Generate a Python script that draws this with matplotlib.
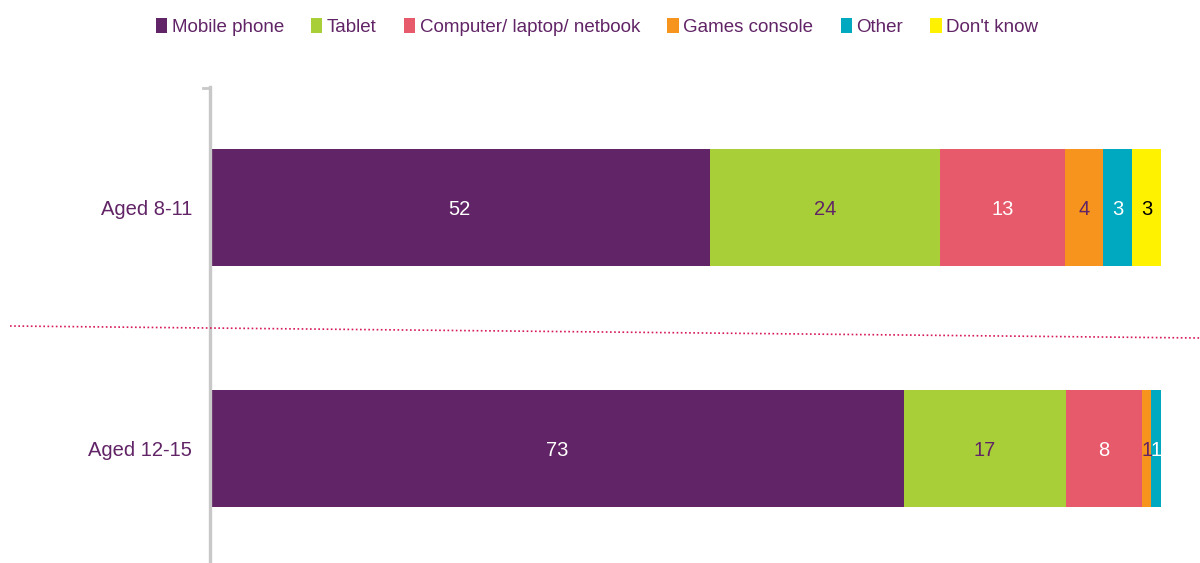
import matplotlib
matplotlib.use("Agg")
import matplotlib.pyplot as plt
from matplotlib.lines import Line2D
from matplotlib.patches import Patch
import numpy as np

plt.rcParams['font.family'] = ['Liberation Sans', 'DejaVu Sans']

groups = ["Aged 8-11", "Aged 12-15"]
series = ["Mobile phone", "Tablet", "Computer/ laptop/ netbook", "Games console", "Other", "Don't know"]
mobile = [52, 73]
tablet = [24, 17]
computer = [13, 8]
games = [4, 1]
other = [3, 1]
dontknow = [3, 0]

colors = ["#612466", "#A8CF38", "#E65A6B", "#F7941D", "#00A9BF", "#FFF200"]
text_colors = ["white", "#612466", "white", "#612466", "white", "black"]
purple = "#612466"

data = np.array([mobile, tablet, computer, games, other, dontknow], dtype=float)
totals = data.sum(axis=0)
pct = data / totals * 100

fig = plt.figure(figsize=(12, 5.63), dpi=100)
ax = fig.add_axes([0.175, 0.0, 0.7925, 1 - 87 / 563])

y = np.arange(len(groups))
left = np.zeros(len(groups))
for i, name in enumerate(series):
    ax.barh(y, pct[i], left=left, height=0.4875, color=colors[i], label=name)
    for j in range(len(groups)):
        v = data[i, j]
        if v > 0:
            ax.text(left[j] + pct[i, j] / 2, y[j], f"{int(v)}", ha="center", va="center_baseline",
                    color=text_colors[i], fontsize=14.5)
    left += pct[i]

ax.set_xlim(0, 100)
ax.set_ylim(1.479, -0.504)
ax.set_yticks(y)
ax.set_yticklabels(groups, fontsize=14.5, color=purple, va="center_baseline")
ax.tick_params(axis="y", length=0, pad=13)
ax.set_xticks([])
for s in ["top", "right", "bottom"]:
    ax.spines[s].set_visible(False)
ax.spines["left"].set_color("#C8C8C8")
ax.spines["left"].set_linewidth(2.4)

# small hook at top of axis line
fig.add_artist(Line2D([203 / 1200, 208 / 1200], [1 - 88 / 563, 1 - 88 / 563],
                      color="#C8C8C8", lw=2.0, transform=fig.transFigure))

# dotted separator
fig.add_artist(Line2D([10 / 1200, 1200 / 1200], [1 - 326 / 563, 1 - 338 / 563],
                      color="#D6195A", lw=1.2, linestyle=(0, (1, 1.5)), transform=fig.transFigure))

handles = [Patch(facecolor=c, edgecolor="none") for c in colors]
leg = fig.legend(handles, series, loc="center", bbox_to_anchor=(597 / 1200, 1 - 27 / 563),
                 ncol=6, frameon=False, fontsize=13.5, handlelength=0.6, handleheight=0.8,
                 handletextpad=0.25, columnspacing=1.45)
for t in leg.get_texts():
    t.set_color(purple)

fig.savefig("out.png", dpi=100)
